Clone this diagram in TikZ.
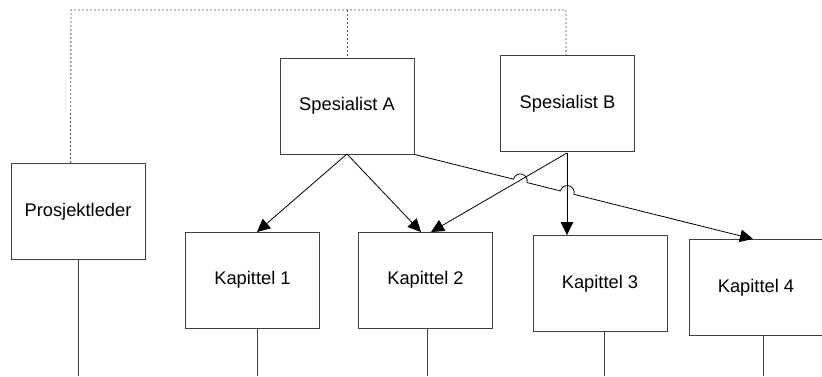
\documentclass[tikz,border=0pt]{standalone}
\usepackage{fontspec}
\setmainfont{Liberation Sans}
\usetikzlibrary{arrows.meta,calc}
\begin{document}
\begin{tikzpicture}[x=1pt,y=-1pt,
  box/.style={draw=black!75,line width=0.9pt,minimum width=134pt,minimum height=96pt,
    inner sep=0pt,font=\fontsize{18.3}{22}\selectfont},
  arr/.style={draw=black,line width=0.8pt,-{Triangle[length=13pt,width=12.5pt]}},
  dotline/.style={draw=black!65,line width=0.9pt,dash pattern=on 2pt off 2pt},
  stem/.style={draw=black!75,line width=0.9pt}]
\useasboundingbox (0,0) rectangle (822,376);

% boxes
\node[box] (P)  at (78,211.5)   {Prosjektleder};
\node[box] (A)  at (347,106)    {Spesialist A};
\node[box] (B)  at (567.5,103.5){Spesialist B};
\node[box] (K1) at (252.5,280)  {Kapittel 1};
\node[box] (K2) at (425.5,280)  {Kapittel 2};
\node[box] (K3) at (600,283.5)  {Kapittel 3};
\node[box] (K4) at (756,287.5)  {Kapittel 4};

% dotted staff link across the top
\coordinate (topL) at (71,10);
\coordinate (topR) at (566,10);
\draw[dotline] ($(P.north west)+(60,0)$) -- (topL) -- (topR) -- ($(B.north west)+(66,0)$);
\draw[dotline] (A.north |- topL) -- (A.north);

% stems down to the page edge
\coordinate (sP)  at (78,376);
\coordinate (s1)  at (257,376);
\coordinate (s2)  at (427,376);
\coordinate (s3)  at (604,376);
\coordinate (s4)  at (763,376);
\draw[stem] (P.south)  -- (sP);
\draw[stem] (K1.south -| s1) -- (s1);
\draw[stem] (K2.south -| s2) -- (s2);
\draw[stem] (K3.south -| s3) -- (s3);
\draw[stem] (K4.south -| s4) -- (s4);

% arrows
\coordinate (aS)  at (347,154);
\coordinate (bS)  at (567,153);
\coordinate (k4in) at (753,239);
\draw[arr] (aS) -- (257,232);
\draw[arr] (aS) -- (421,232);
\draw[arr] (bS) -- (431,232);
\draw[arr] (bS) -- (bS |- K3.north);

% Spesialist A to Kapittel 4, hopping over the two lines from Spesialist B
\draw[arr] (A.south east)
  -- ($(A.south east)!0.2924!(k4in)$) arc[start angle=194.08,end angle=374.08,radius=7]
  -- ($(A.south east)!0.4312!(k4in)$) arc[start angle=194.08,end angle=374.08,radius=7]
  -- (k4in);
\end{tikzpicture}
\end{document}
